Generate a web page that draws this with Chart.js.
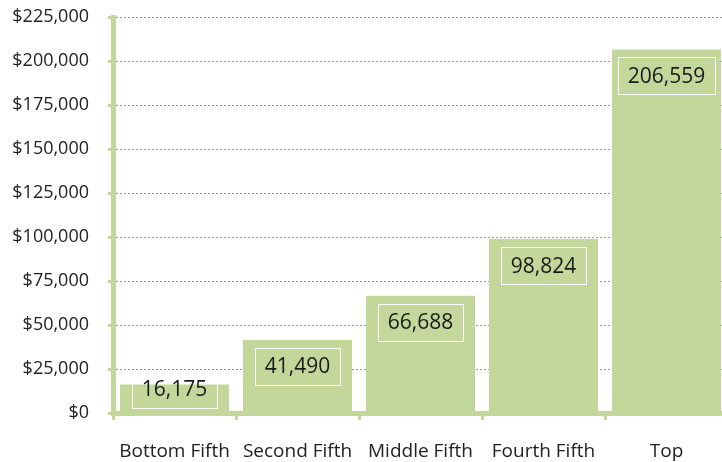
<!DOCTYPE html>
<html>
<head>
<meta charset="utf-8">
<title>Income by Quintile</title>
<script src="https://cdn.jsdelivr.net/npm/chart.js@4/dist/chart.umd.min.js"></script>
<style>
  html, body { margin: 0; padding: 0; background: #fff; overflow: hidden; }
  #wrap { width: 728px; height: 462px; position: relative; }
</style>
</head>
<body>
<div id="wrap"><canvas id="incomeChart"></canvas></div>
<script>
var quintiles = ['Bottom Fifth', 'Second Fifth', 'Middle Fifth', 'Fourth Fifth', 'Top'];
var incomes = [16175, 41490, 66688, 98824, 206559];

var green = '#c4d79b';
var fontFamily = "'Open Sans', 'DejaVu Sans', sans-serif";

// boxed value label sitting just inside the top of each bar
var boxedLabels = {
    id: 'boxedLabels',
    afterDatasetsDraw: function(chart) {
        var ctx = chart.ctx;
        var meta = chart.getDatasetMeta(0);
        var data = chart.data.datasets[0].data;
        ctx.save();
        ctx.font = '21px ' + fontFamily;
        ctx.textAlign = 'center';
        ctx.textBaseline = 'middle';
        for (var i = 0; i < meta.data.length; i++) {
            var bar = meta.data[i];
            var text = data[i].toLocaleString('en-US');
            var w = ctx.measureText(text).width + 20;
            var h = 37;
            var top = bar.y + 8;
            if (top + h > bar.base - 5) {
                top = bar.base - 5 - h;
            }
            ctx.strokeStyle = '#ffffff';
            ctx.lineWidth = 1;
            ctx.strokeRect(Math.round(bar.x - w / 2) + 0.5, Math.round(top) + 0.5, Math.round(w), h);
            ctx.fillStyle = '#1a1a1a';
            ctx.fillText(text, bar.x, top + h / 2 + 1);
        }
        ctx.restore();
    }
};

new Chart(document.getElementById('incomeChart'), {
    type: 'bar',
    data: {
        labels: quintiles,
        datasets: [{
            data: incomes,
            backgroundColor: green,
            borderWidth: 0,
            barPercentage: 0.886,
            categoryPercentage: 1.0
        }]
    },
    options: {
        responsive: true,
        maintainAspectRatio: false,
        animation: false,
        layout: { padding: { top: 17, right: 0, left: 0, bottom: 0 } },
        plugins: {
            legend: { display: false },
            tooltip: { enabled: false }
        },
        scales: {
            x: {
                grid: {
                    drawOnChartArea: false,
                    tickLength: 7,
                    tickColor: green,
                    tickWidth: 3,
                    offset: true
                },
                border: { color: green, width: 5 },
                ticks: {
                    color: '#222',
                    font: { family: fontFamily, size: 19 },
                    padding: 20
                },
                afterFit: function(scale) {
                    scale.height = 49;
                    scale.paddingLeft = 0;
                    scale.paddingRight = 0;
                }
            },
            y: {
                min: 0,
                max: 225000,
                grid: {
                    color: '#9a9a9a',
                    lineWidth: 1,
                    tickColor: green,
                    tickLength: 5,
                    tickWidth: 3
                },
                border: { color: green, width: 5, dash: [2, 2] },
                ticks: {
                    stepSize: 25000,
                    color: '#222',
                    font: { family: fontFamily, size: 18 },
                    padding: 19,
                    callback: function(v) { return '$' + v.toLocaleString('en-US'); }
                },
                afterFit: function(scale) {
                    scale.width = 113;
                    scale.paddingTop = 0;
                    scale.paddingBottom = 0;
                }
            }
        }
    },
    plugins: [boxedLabels]
});
</script>
</body>
</html>
